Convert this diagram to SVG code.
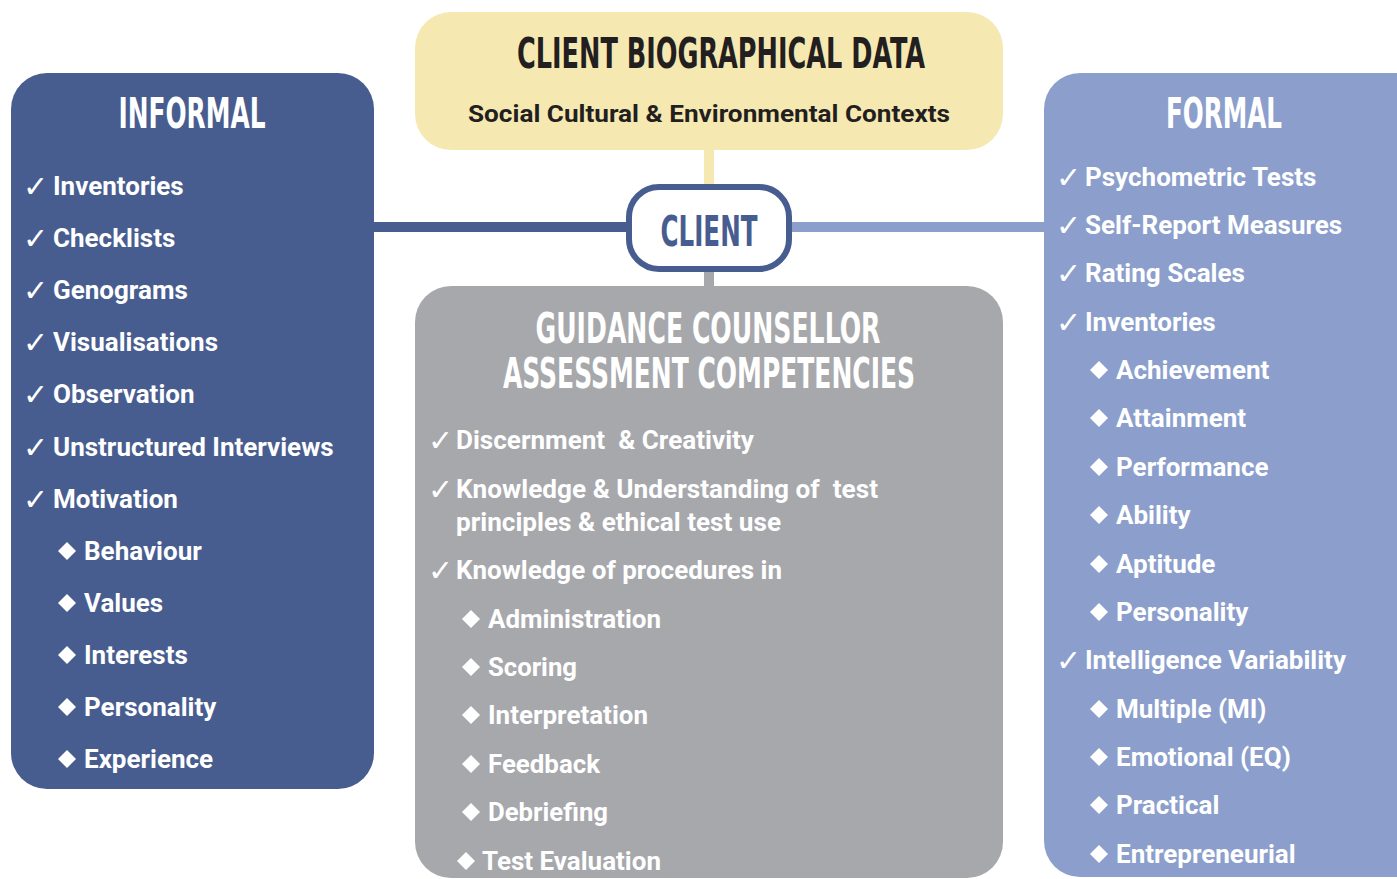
<svg xmlns="http://www.w3.org/2000/svg" xmlns:xlink="http://www.w3.org/1999/xlink" width="1397" height="879" viewBox="0 0 1397 879">
<defs>
<style>
.hd{font-family:"Liberation Sans Narrow","DejaVu Sans Condensed","Liberation Sans",sans-serif;font-weight:bold;font-size:42px;text-anchor:middle}
.it{font-family:Roboto,"Liberation Sans",sans-serif;font-weight:bold;font-size:26px;fill:#ffffff}
.ck{font-family:"DejaVu Sans",sans-serif;font-size:30px;fill:#ffffff}
.wh{fill:#ffffff}
</style>
<polygon id="dm" points="0,-9 9,0 0,9 -9,0" fill="#ffffff"/>
</defs>
<rect width="1397" height="879" fill="#ffffff"/>
<g id="connectors">
<line x1="370" y1="227" x2="630" y2="227" stroke="#485d8f" stroke-width="10"/>
<line x1="790" y1="227" x2="1048" y2="227" stroke="#8c9fcc" stroke-width="10"/>
<line x1="709" y1="145" x2="709" y2="188" stroke="#f6e8b1" stroke-width="10"/>
<line x1="709" y1="268" x2="709" y2="290" stroke="#a7a8ac" stroke-width="10"/>
</g>
<g id="biographical">
<rect x="415" y="12" width="588" height="138" rx="36" fill="#f6e8b1"/>
<text class="hd" x="721" y="68" fill="#231f20" textLength="408" lengthAdjust="spacingAndGlyphs">CLIENT BIOGRAPHICAL DATA</text>
<text x="709" y="122" font-family="Roboto,'Liberation Sans',sans-serif" font-weight="bold" font-size="24" fill="#231f20" text-anchor="middle" textLength="482" lengthAdjust="spacingAndGlyphs">Social Cultural &amp; Environmental Contexts</text>
</g>
<g id="client">
<rect x="629" y="187" width="160" height="82" rx="30" fill="#ffffff" stroke="#485d8f" stroke-width="6"/>
<text class="hd" x="709" y="246" fill="#485d8f" font-size="46" textLength="97" lengthAdjust="spacingAndGlyphs">CLIENT</text>
</g>
<g id="informal">
<rect x="11" y="73" width="363" height="716" rx="36" fill="#485d8f"/>
<text class="hd wh" x="192" y="128" textLength="147" lengthAdjust="spacingAndGlyphs">INFORMAL</text>
<g class="ck">
<text x="23" y="197">✓</text><text x="23" y="249">✓</text><text x="23" y="301">✓</text><text x="23" y="353">✓</text><text x="23" y="405">✓</text><text x="23" y="458">✓</text><text x="23" y="510">✓</text>
</g>
<g class="it">
<text x="53" y="195">Inventories</text>
<text x="53" y="247">Checklists</text>
<text x="53" y="299">Genograms</text>
<text x="53" y="351">Visualisations</text>
<text x="53" y="403">Observation</text>
<text x="53" y="456">Unstructured Interviews</text>
<text x="53" y="508">Motivation</text>
<text x="84" y="560">Behaviour</text>
<text x="84" y="612">Values</text>
<text x="84" y="664">Interests</text>
<text x="84" y="716">Personality</text>
<text x="84" y="768">Experience</text>
</g>
<use xlink:href="#dm" x="67" y="551"/><use xlink:href="#dm" x="67" y="603"/><use xlink:href="#dm" x="67" y="655"/><use xlink:href="#dm" x="67" y="707"/><use xlink:href="#dm" x="67" y="759"/>
</g>
<g id="formal">
<rect x="1044" y="73" width="400" height="804" rx="36" fill="#8c9fcc"/>
<text class="hd wh" x="1224" y="128" textLength="116" lengthAdjust="spacingAndGlyphs">FORMAL</text>
<g class="ck">
<text x="1056" y="188">✓</text><text x="1056" y="236">✓</text><text x="1056" y="284">✓</text><text x="1056" y="333">✓</text><text x="1056" y="671">✓</text>
</g>
<g class="it">
<text x="1085" y="186">Psychometric Tests</text>
<text x="1085" y="234">Self-Report Measures</text>
<text x="1085" y="282">Rating Scales</text>
<text x="1085" y="331">Inventories</text>
<text x="1116" y="379">Achievement</text>
<text x="1116" y="427">Attainment</text>
<text x="1116" y="476">Performance</text>
<text x="1116" y="524">Ability</text>
<text x="1116" y="573">Aptitude</text>
<text x="1116" y="621">Personality</text>
<text x="1085" y="669">Intelligence Variability</text>
<text x="1116" y="718">Multiple (MI)</text>
<text x="1116" y="766">Emotional (EQ)</text>
<text x="1116" y="814">Practical</text>
<text x="1116" y="863">Entrepreneurial</text>
</g>
<use xlink:href="#dm" x="1099" y="370"/><use xlink:href="#dm" x="1099" y="418"/><use xlink:href="#dm" x="1099" y="467"/><use xlink:href="#dm" x="1099" y="515"/><use xlink:href="#dm" x="1099" y="564"/><use xlink:href="#dm" x="1099" y="612"/>
<use xlink:href="#dm" x="1099" y="709"/><use xlink:href="#dm" x="1099" y="757"/><use xlink:href="#dm" x="1099" y="805"/><use xlink:href="#dm" x="1099" y="854"/>
</g>
<g id="competencies">
<rect x="415" y="286" width="588" height="592" rx="36" fill="#a7a8ac"/>
<text class="hd wh" x="708" y="343" textLength="345" lengthAdjust="spacingAndGlyphs">GUIDANCE COUNSELLOR</text>
<text class="hd wh" x="709" y="388" textLength="412" lengthAdjust="spacingAndGlyphs">ASSESSMENT COMPETENCIES</text>
<g class="ck">
<text x="428" y="451">✓</text><text x="428" y="500">✓</text><text x="428" y="581">✓</text>
</g>
<g class="it" font-size="25">
<text x="456" y="449" xml:space="preserve" textLength="298" lengthAdjust="spacingAndGlyphs">Discernment  &amp; Creativity</text>
<text x="456" y="498" xml:space="preserve" textLength="422" lengthAdjust="spacingAndGlyphs">Knowledge &amp; Understanding of  test</text>
<text x="456" y="531" textLength="325" lengthAdjust="spacingAndGlyphs">principles &amp; ethical test use</text>
<text x="456" y="579" textLength="326" lengthAdjust="spacingAndGlyphs">Knowledge of procedures in</text>
<text x="488" y="628" textLength="173" lengthAdjust="spacingAndGlyphs">Administration</text>
<text x="488" y="676" textLength="89" lengthAdjust="spacingAndGlyphs">Scoring</text>
<text x="488" y="724" textLength="160" lengthAdjust="spacingAndGlyphs">Interpretation</text>
<text x="488" y="773" textLength="112" lengthAdjust="spacingAndGlyphs">Feedback</text>
<text x="488" y="821" textLength="120" lengthAdjust="spacingAndGlyphs">Debriefing</text>
<text x="482" y="870" textLength="179" lengthAdjust="spacingAndGlyphs">Test Evaluation</text>
</g>
<use xlink:href="#dm" x="471" y="619"/><use xlink:href="#dm" x="471" y="667"/><use xlink:href="#dm" x="471" y="715"/><use xlink:href="#dm" x="471" y="764"/><use xlink:href="#dm" x="471" y="812"/><use xlink:href="#dm" x="466" y="861"/>
</g>
</svg>
